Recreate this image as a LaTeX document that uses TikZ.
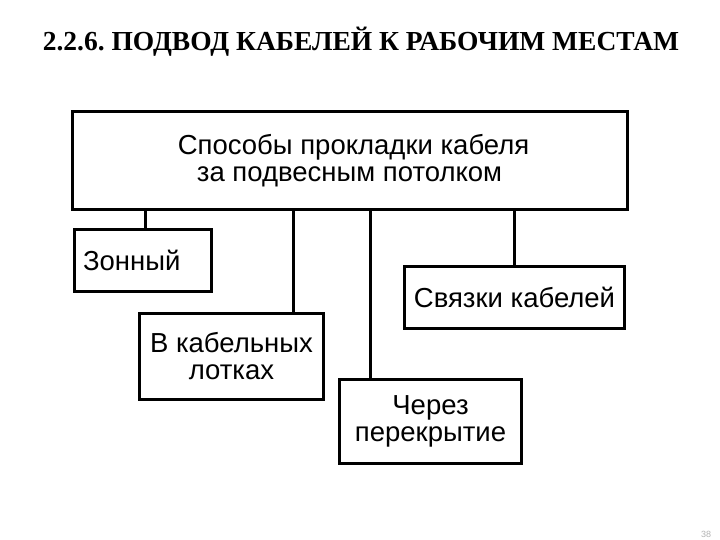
\documentclass[tikz,border=0pt]{standalone}
\usepackage{fontspec}
\setmainfont{Liberation Sans}
\newfontfamily\titlefont{Liberation Serif}
\frenchspacing
\begin{document}
\begin{tikzpicture}[x=1pt,y=-1pt,line width=3pt,
  bx/.style={draw,rectangle,inner sep=0pt,align=center,font=\fontsize{27.5}{27}\selectfont}]
\useasboundingbox (0,0) rectangle (720,540);
\node[font=\titlefont\bfseries\fontsize{27.5}{30}\selectfont] (title) at (361,42) {2.2.6. ПОДВОД КАБЕЛЕЙ К РАБОЧИМ МЕСТАМ};
\node[bx,minimum width=555,minimum height=98] (top) at (349.5,161) {\hspace*{8pt}Способы прокладки кабеля\\за подвесным потолком};
\node[bx,minimum width=137,minimum height=62,anchor=north west,text width=120,align=left] (z) at (73,228) {Зонный};
\node[bx,minimum width=184,minimum height=86,anchor=north west] (b) at (138,312) {В кабельных\\лотках};
\node[bx,minimum width=182,minimum height=84,anchor=north west] (c) at (338,378) {Через\\перекрытие};
\node[bx,minimum width=220,minimum height=62,anchor=north west] (s) at (403,265) {Связки кабелей};
\draw (top.south -| 145,0) -- (z.north -| 145,0);
\draw (top.south -| 293,0) -- (b.north -| 293,0);
\draw (top.south -| 370,0) -- (c.north -| 370,0);
\draw (top.south -| 514,0) -- (s.north -| 514,0);
\node[text=black!30,font=\fontsize{9}{10}\selectfont] (pg) at (706,534) {38};
\end{tikzpicture}
\end{document}
